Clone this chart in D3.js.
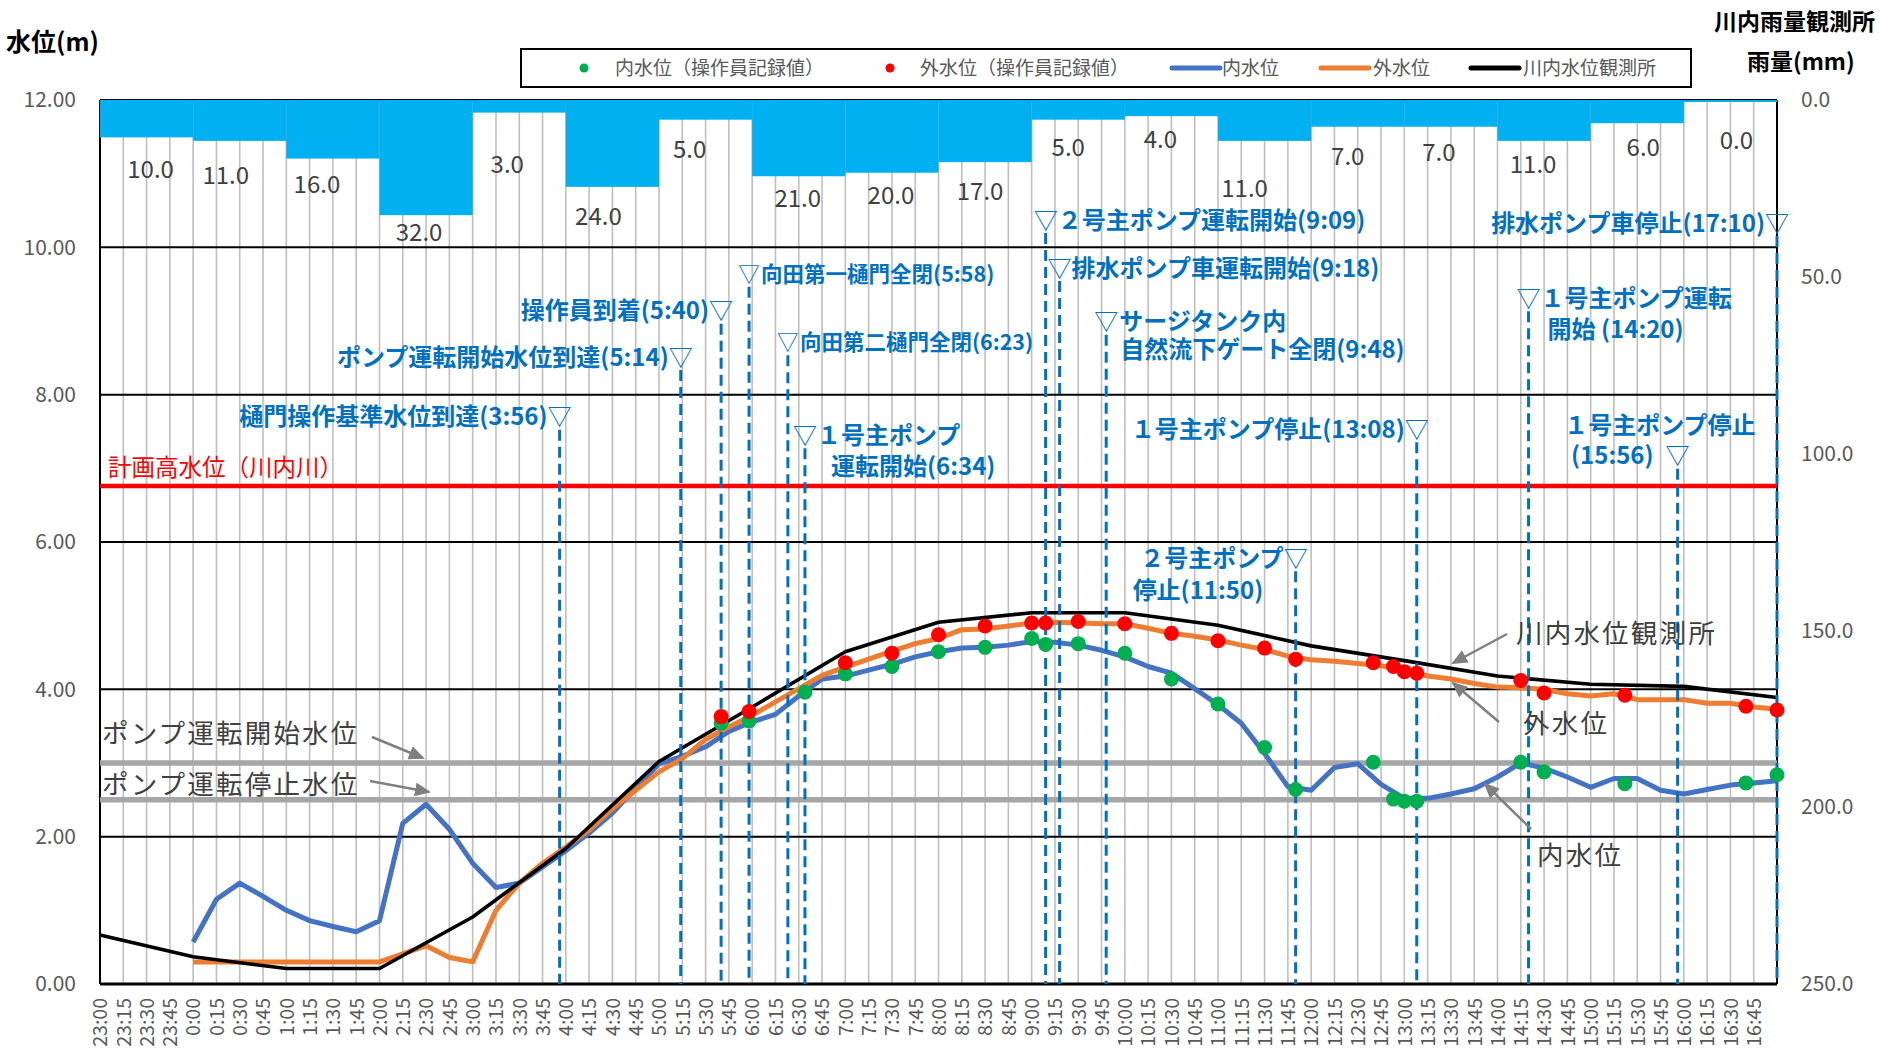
<!DOCTYPE html>
<html><head><meta charset="utf-8">
<script src="https://cdn.jsdelivr.net/npm/d3@7"></script>
<style>
body{margin:0;background:#fff}
svg{display:block}
text{font-family:"Noto Sans CJK JP","Noto Sans",sans-serif}
</style>
</head><body>
<svg id="c" width="1883" height="1052"></svg>
<script>
// ---------------- DATA ----------------
const timeLabels = ["23:00","23:15","23:30","23:45",
 "0:00","0:15","0:30","0:45","1:00","1:15","1:30","1:45","2:00","2:15","2:30","2:45",
 "3:00","3:15","3:30","3:45","4:00","4:15","4:30","4:45","5:00","5:15","5:30","5:45",
 "6:00","6:15","6:30","6:45","7:00","7:15","7:30","7:45","8:00","8:15","8:30","8:45",
 "9:00","9:15","9:30","9:45","10:00","10:15","10:30","10:45","11:00","11:15","11:30","11:45",
 "12:00","12:15","12:30","12:45","13:00","13:15","13:30","13:45","14:00","14:15","14:30","14:45",
 "15:00","15:15","15:30","15:45","16:00","16:15","16:30","16:45","17:00"];

// 内水位 (blue), every 15 min
const innerLevel = [null,null,null,null,
 0.57,1.15,1.37,1.19,1.00,0.86,0.78,0.71,0.86,2.18,2.44,2.10,
 1.64,1.31,1.37,1.59,1.81,2.05,2.32,2.66,2.99,3.09,3.22,3.43,
 3.56,3.66,3.91,4.14,4.18,4.26,4.34,4.44,4.51,4.56,4.57,4.60,
 4.65,4.64,4.60,4.53,4.44,4.31,4.22,4.01,3.79,3.54,3.13,2.68,
 2.63,2.94,2.99,2.71,2.52,2.52,2.58,2.65,2.81,3.00,2.93,2.81,
 2.67,2.79,2.79,2.63,2.58,2.64,2.70,2.73,2.76];

// 外水位 (orange), every 15 min
const outerLevel = [null,null,null,null,
 0.30,0.30,0.30,0.30,0.30,0.30,0.30,0.30,0.30,0.41,0.52,0.36,
 0.30,1.00,1.37,1.64,1.86,2.09,2.38,2.63,2.88,3.06,3.32,3.49,
 3.65,3.83,4.01,4.19,4.30,4.41,4.52,4.62,4.69,4.81,4.82,4.86,
 4.90,4.91,4.90,4.89,4.89,4.83,4.76,4.72,4.67,4.60,4.54,4.45,
 4.40,4.38,4.35,4.32,4.26,4.18,4.14,4.08,4.03,4.02,4.00,3.94,
 3.91,3.94,3.86,3.86,3.86,3.81,3.81,3.76,3.73];

// 川内水位観測所 (black), hourly
const riverTimes = ["23:00","0:00","1:00","2:00","3:00","4:00","5:00","6:00","7:00","8:00",
 "9:00","10:00","11:00","12:00","13:00","14:00","15:00","16:00","17:00"];
const riverLevel = [0.665,0.37,0.21,0.21,0.91,1.84,3.02,3.76,4.51,4.91,
 5.04,5.04,4.87,4.59,4.39,4.18,4.07,4.04,3.89];

// 操作員記録値
const recordTimes = ["5:40","5:58","6:34","7:00","7:30","8:00","8:30","9:00","9:09","9:30",
 "10:00","10:30","11:00","11:30","11:50","12:40","12:53","13:00","13:08","14:15",
 "14:30","15:22","16:40","17:00"];
const recordInner = [3.54,3.57,3.96,4.21,4.31,4.51,4.57,4.69,4.61,4.62,
 4.49,4.14,3.80,3.21,2.64,3.01,2.51,2.48,2.48,3.01,
 2.88,2.72,2.73,2.84];
const recordOuter = [3.63,3.70,null,4.36,4.49,4.74,4.86,4.90,4.90,4.92,
 4.89,4.76,4.66,4.56,4.41,4.36,4.31,4.24,4.22,4.12,
 3.95,3.92,3.77,3.72];

// 川内雨量観測所 hourly rainfall (mm)
const rainHours = ["23:00","0:00","1:00","2:00","3:00","4:00","5:00","6:00","7:00",
 "8:00","9:00","10:00","11:00","12:00","13:00","14:00","15:00","16:00"];
const rainfall = [10,11,16,32,3,24,5,21,20,17,5,4,11,7,7,11,6,0];

const levelTicks = [0,2,4,6,8,10,12];
const rainTicks = [0,50,100,150,200,250];

const pumpStartLevel = 3.0;
const pumpStopLevel = 2.5;
const plannedHighWater = 6.76;

const eventTimes = ["3:56","5:14","5:40","5:58","6:23","6:34","9:09","9:18","9:48","11:50","13:08","14:20","15:56","17:10"];
const eventLabels = [
 ["樋門操作基準水位到達(3:56)"],
 ["ポンプ運転開始水位到達(5:14)"],
 ["操作員到着(5:40)"],
 ["向田第一樋門全閉(5:58)"],
 ["向田第二樋門全閉(6:23)"],
 ["１号主ポンプ","運転開始(6:34)"],
 ["２号主ポンプ運転開始(9:09)"],
 ["排水ポンプ車運転開始(9:18)"],
 ["サージタンク内","自然流下ゲート全閉(9:48)"],
 ["２号主ポンプ","停止(11:50)"],
 ["１号主ポンプ停止(13:08)"],
 ["１号主ポンプ運転","開始 (14:20)"],
 ["１号主ポンプ停止","(15:56)"],
 ["排水ポンプ車停止(17:10)"]];

// ---------------- LAYOUT (positions / styles) ----------------
const eventLayout = [
 {lv:7.70, fs:24, lines:[{dx:-12,dy:0,a:"end"}]},
 {lv:8.51, fs:24, lines:[{dx:-12,dy:0,a:"end"}]},
 {lv:9.14, fs:24, lines:[{dx:-12,dy:0,a:"end"}]},
 {lv:9.64, fs:21.5, lines:[{dx:12,dy:0,a:"start"}]},
 {lv:8.71, fs:21.5, lines:[{dx:12,dy:0,a:"start"}]},
 {lv:7.45, fs:24, lines:[{dx:12,dy:0,a:"start"},{dx:26,dy:31,a:"start"}]},
 {lv:10.37, fs:24, lines:[{dx:12,dy:0,a:"start"}]},
 {lv:9.72, fs:24, lines:[{dx:12,dy:0,a:"start"}]},
 {lv:8.99, fs:24, lines:[{dx:13,dy:0,a:"start"},{dx:14,dy:28,a:"start"}]},
 {lv:5.78, fs:24, lines:[{dx:-12,dy:0,a:"end"},{dx:-163,dy:32,a:"start"}]},
 {lv:7.53, fs:24, lines:[{dx:-12,dy:0,a:"end"}]},
 {lv:9.31, fs:24, lines:[{dx:12,dy:0,a:"start"},{dx:19,dy:31,a:"start"}]},
 {lv:7.17, fs:24, lines:[{dx:78,dy:-30,a:"end"},{dx:-24,dy:0,a:"end"}]},
 {lv:10.33, fs:24, lines:[{dx:-12,dy:0,a:"end"}]}];
const rainLabelDy = [32,34,26,17,52,29,30,22,23,29,28,23,47,30,26,23,24,38];
const rainLabelDx = [4,-14,-16,-7,-12,-14,-16,-1,-1,-5,-10,-11,-20,-10,-12,-11,6,6];

// ---------------- CHART ----------------
const svg = d3.select("#c");
const L=100, R=1777, T=100, B=984;
const toMin = s => { const [h,m] = s.split(":").map(Number); return (h===23 ? 0 : (h+1)*60) + m; };

const x = d3.scalePoint().domain(timeLabels).range([L,R]);
const xt = d3.scaleLinear().domain([0,1080]).range([L,R]).clamp(true);
const y = d3.scaleLinear().domain([0,12]).range([B,T]);
const yr = d3.scaleLinear().domain([0,250]).range([T,B]);

const BLUE="#4472C4", ORANGE="#ED7D31", GREEN="#00B050", RED="#FF0000", ANN="#0070C0", GRAY="#808080";
const MID = "0.36em";

svg.append("defs").append("marker")
 .attr("id","arr").attr("markerUnits","userSpaceOnUse")
 .attr("markerWidth",16).attr("markerHeight",14).attr("refX",14).attr("refY",7)
 .attr("orient","auto")
 .append("path").attr("d","M0,0 L16,7 L0,14 Z").attr("fill",GRAY);

// vertical gridlines
svg.append("g").selectAll("line").data(timeLabels).join("line")
 .attr("x1",d=>x(d)).attr("x2",d=>x(d)).attr("y1",T).attr("y2",B)
 .attr("stroke","#BFBFBF").attr("stroke-width",1.6);

// horizontal gridlines
svg.append("g").selectAll("line").data(levelTicks).join("line")
 .attr("x1",L).attr("x2",R).attr("y1",d=>y(d)).attr("y2",d=>y(d))
 .attr("stroke","#000").attr("stroke-width",d=>d===0?3:2);
svg.append("line").attr("x1",L).attr("x2",L).attr("y1",T).attr("y2",B).attr("stroke","#000").attr("stroke-width",2);
svg.append("line").attr("x1",R).attr("x2",R).attr("y1",T).attr("y2",B).attr("stroke","#000").attr("stroke-width",2);

// rain bars
const bw = xt(60)-xt(0);
svg.append("g").selectAll("rect").data(rainfall).join("rect")
 .attr("x",(d,i)=>xt(toMin(rainHours[i])))
 .attr("width",bw).attr("y",T).attr("height",d=>yr(d)-T+2)
 .attr("fill","#00B0F0");
svg.append("g").selectAll("text").data(rainfall).join("text")
 .attr("x",(d,i)=>xt(toMin(rainHours[i]))+bw/2+rainLabelDx[i])
 .attr("y",(d,i)=>yr(d)+2+rainLabelDy[i]).attr("dy",MID)
 .attr("text-anchor","middle").attr("font-size",24).attr("fill","#404040")
 .text(d=>d3.format(".1f")(d));

// pump level lines and planned high water
svg.append("g").selectAll("line").data([pumpStartLevel,pumpStopLevel]).join("line")
 .attr("x1",L).attr("x2",R).attr("y1",d=>y(d)).attr("y2",d=>y(d))
 .attr("stroke","#A6A6A6").attr("stroke-width",5.5);
svg.append("line").attr("x1",L).attr("x2",R).attr("y1",y(plannedHighWater)).attr("y2",y(plannedHighWater))
 .attr("stroke",RED).attr("stroke-width",4.5);
svg.append("text").attr("x",108).attr("y",y(plannedHighWater)-18).attr("dy",MID)
 .attr("font-size",23.5).attr("fill",RED).text("計画高水位（川内川）");

// series lines
const lineGen = d3.line().defined(d=>d.v!=null).x(d=>x(d.t)).y(d=>y(d.v));
svg.append("path").datum(timeLabels.map((t,i)=>({t,v:innerLevel[i]})))
 .attr("d",lineGen).attr("fill","none").attr("stroke",BLUE).attr("stroke-width",5).attr("stroke-linejoin","round");
svg.append("path").datum(timeLabels.map((t,i)=>({t,v:outerLevel[i]})))
 .attr("d",lineGen).attr("fill","none").attr("stroke",ORANGE).attr("stroke-width",5).attr("stroke-linejoin","round");
svg.append("path").datum(riverTimes.map((t,i)=>({t,v:riverLevel[i]})))
 .attr("d",lineGen).attr("fill","none").attr("stroke","#000").attr("stroke-width",3.6).attr("stroke-linejoin","round");

// event dashed lines
svg.append("g").selectAll("line").data(eventTimes).join("line")
 .attr("x1",d=>xt(toMin(d))).attr("x2",d=>xt(toMin(d)))
 .attr("y1",(d,i)=>y(eventLayout[i].lv)+13).attr("y2",B)
 .attr("stroke",ANN).attr("stroke-width",3).attr("stroke-dasharray","11,6");

// record dots
svg.append("g").selectAll("circle").data(recordTimes.map((t,i)=>({t,v:recordInner[i]})))
 .join("circle").attr("cx",d=>xt(toMin(d.t))).attr("cy",d=>y(d.v)).attr("r",7.5).attr("fill",GREEN);
svg.append("g").selectAll("circle").data(recordTimes.map((t,i)=>({t,v:recordOuter[i]})).filter(d=>d.v!=null))
 .join("circle").attr("cx",d=>xt(toMin(d.t))).attr("cy",d=>y(d.v)).attr("r",7.5).attr("fill",RED);

// event annotations
const ev = svg.append("g").attr("fill",ANN).attr("font-weight","bold");
eventTimes.forEach((t,i)=>{
  const lay = eventLayout[i], ex = xt(toMin(t)), ey = y(lay.lv);
  ev.append("text").attr("x",ex).attr("y",ey).attr("dy",MID).attr("text-anchor","middle")
    .attr("font-size",lay.fs).attr("font-weight","normal").text("▽");
  eventLabels[i].forEach((s,j)=>{
    const ln = lay.lines[j];
    ev.append("text").attr("x",ex+ln.dx).attr("y",ey+ln.dy).attr("dy",MID).attr("text-anchor",ln.a)
      .attr("font-size",lay.fs).text(s);
  });
});

// axes
const ya = svg.append("g").attr("transform",`translate(${L},0)`)
 .call(d3.axisLeft(y).tickValues(levelTicks).tickFormat(d3.format(".2f")).tickSize(0).tickPadding(24));
ya.select(".domain").remove();
ya.selectAll("text").attr("font-size",21).attr("fill","#595959");

const yra = svg.append("g").attr("transform",`translate(${R},0)`)
 .call(d3.axisRight(yr).tickValues(rainTicks).tickFormat(d3.format(".1f")).tickSize(0).tickPadding(24));
yra.select(".domain").remove();
yra.selectAll("text").attr("font-size",21).attr("fill","#595959");

const xa = svg.append("g").attr("transform",`translate(0,${B})`)
 .call(d3.axisBottom(x).tickValues(timeLabels.slice(0,timeLabels.length-1)).tickSize(0));
xa.select(".domain").remove();
xa.selectAll("text").attr("transform","rotate(-90)").attr("x",-14).attr("y",0)
 .attr("dy","0.35em").attr("text-anchor","end").attr("font-size",19.5).attr("fill","#595959");

// titles
svg.append("text").attr("x",6).attr("y",42).attr("dy",MID)
 .attr("font-size",25).attr("font-weight","bold").text("水位(m)");
svg.append("text").attr("x",1714).attr("y",22).attr("dy",MID)
 .attr("font-size",23).attr("font-weight","bold").text("川内雨量観測所");
svg.append("text").attr("x",1747).attr("y",62).attr("dy",MID)
 .attr("font-size",23).attr("font-weight","bold").text("雨量(mm)");

// level labels with arrows
const notes = [
 {t:"ポンプ運転開始水位", x:102, y:733, ax:[372,737,423,758]},
 {t:"ポンプ運転停止水位", x:102, y:784, ax:[370,781,429,792]},
 {t:"川内水位観測所", x:1516, y:633, ax:[1507,634,1453,663]},
 {t:"外水位", x:1523, y:723, ax:[1499,722,1453,683]},
 {t:"内水位", x:1537, y:855, ax:[1531,829,1485,784]}];
notes.forEach(n=>{
  svg.append("line").attr("x1",n.ax[0]).attr("y1",n.ax[1]).attr("x2",n.ax[2]).attr("y2",n.ax[3])
   .attr("stroke",GRAY).attr("stroke-width",2.5).attr("marker-end","url(#arr)");
  svg.append("text").attr("x",n.x).attr("y",n.y).attr("dy",MID)
   .attr("font-size",26.5).attr("letter-spacing",2.2).attr("fill","#404040").text(n.t);
});

// legend
const lg = svg.append("g");
lg.append("rect").attr("x",521).attr("y",49).attr("width",1170).attr("height",38)
 .attr("fill","#fff").attr("stroke","#000").attr("stroke-width",2);
const legendItems = [
 {type:"dot", c:GREEN, x:584, tx:615, t:"内水位（操作員記録値）"},
 {type:"dot", c:RED, x:890, tx:920, t:"外水位（操作員記録値）"},
 {type:"line", c:BLUE, x:1172, tx:1222, t:"内水位"},
 {type:"line", c:ORANGE, x:1321, tx:1373, t:"外水位"},
 {type:"line", c:"#000", x:1471, tx:1523, t:"川内水位観測所"}];
legendItems.forEach(d=>{
  if(d.type==="dot") lg.append("circle").attr("cx",d.x).attr("cy",68).attr("r",4.5).attr("fill",d.c);
  else lg.append("line").attr("x1",d.x).attr("x2",d.x+48).attr("y1",68).attr("y2",68)
    .attr("stroke",d.c).attr("stroke-width",5).attr("stroke-linecap","round");
  lg.append("text").attr("x",d.tx).attr("y",68).attr("dy",MID)
    .attr("font-size",19).attr("fill","#595959").text(d.t);
});
</script>
</body></html>
